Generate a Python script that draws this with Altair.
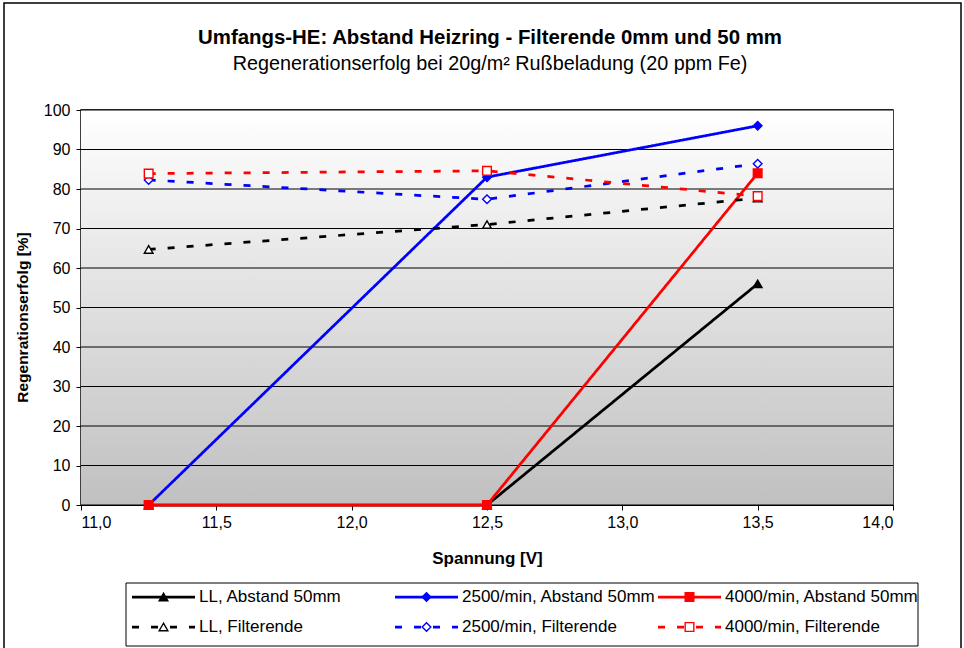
import altair as alt
import pandas as pd

# ---------------- data ----------------
voltage = [11.25, 12.5, 13.5]
series_names = [
    "LL, Abstand 50mm", "2500/min, Abstand 50mm", "4000/min, Abstand 50mm",
    "LL, Filterende", "2500/min, Filterende", "4000/min, Filterende",
]
ll_50 = [0, 0, 56]
rpm2500_50 = [0, 83, 96]
rpm4000_50 = [0, 0, 84]
ll_fe = [64.7, 71, 77.7]
rpm2500_fe = [82.3, 77.4, 86.4]
rpm4000_fe = [83.9, 84.6, 78.2]
x_ticks = [11.0, 11.5, 12.0, 12.5, 13.0, 13.5, 14.0]
y_ticks = [0, 10, 20, 30, 40, 50, 60, 70, 80, 90, 100]

title_text = "Umfangs-HE: Abstand Heizring - Filterende 0mm und 50 mm"
subtitle_text = "Regenerationserfolg bei 20g/m² Rußbeladung (20 ppm Fe)"
x_title = "Spannung [V]"
y_title = "Regenrationserfolg [%]"

all_values = [ll_50, rpm2500_50, rpm4000_50, ll_fe, rpm2500_fe, rpm4000_fe]
rows = []
for name, vals in zip(series_names, all_values):
    for v, val in zip(voltage, vals):
        rows.append({"series": name, "V": v, "value": val})
df = pd.DataFrame(rows)

# ---------------- styles ----------------
FONT = "Liberation Sans"
W, H = 812, 395
colors = ["#000000", "#0000ff", "#ff0000"] * 2
dashes = [[1, 0]] * 3 + [[7, 12]] * 3
shapes = ["triangle-up", "diamond", "square"] * 2
fills = ["#000000", "#0000ff", "#ff0000"] + ["#ffffff"] * 3
sizes = [75, 75, 85, 60, 60, 60]
widths = [2.75, 2.75, 2.75, 3, 3, 3]

color_scale = alt.Scale(domain=series_names, range=colors)
dash_scale = alt.Scale(domain=series_names, range=dashes)
shape_scale = alt.Scale(domain=series_names, range=shapes)
fill_scale = alt.Scale(domain=series_names, range=fills)
size_scale = alt.Scale(domain=series_names, range=sizes)
width_scale = alt.Scale(domain=series_names, range=widths)

x_scale = alt.Scale(domain=[11, 14], nice=False, zero=False)
y_scale = alt.Scale(domain=[0, 100], nice=False)

x_axis = alt.Axis(
    values=x_ticks, grid=False, title=x_title,
    labelExpr="replace(format(datum.value, '.1f'), '.', ',')",
    labelFont=FONT, labelFontSize=16, labelColor="black", labelPadding=4,
    tickColor="black", tickSize=5, domainColor="black",
    titleFont=FONT, titleFontSize=17, titleFontWeight="bold", titleColor="black",
    titleX=406, titleY=53, titleAnchor="middle", titleAlign="center", titleBaseline="middle",
)
y_axis = alt.Axis(
    values=y_ticks, grid=False, title=y_title, format="d",
    labelFont=FONT, labelFontSize=16, labelColor="black", labelPadding=6,
    tickColor="black", tickSize=5, domainColor="black",
    titleFont=FONT, titleFontSize=15.5, titleFontWeight="bold", titleColor="black",
    titleX=-59, titleY=207, titleAngle=270, titleAlign="center", titleBaseline="middle",
)

one = pd.DataFrame({"d": [0]})

background = alt.Chart(one).mark_rect(
    fill=alt.Gradient(
        gradient="linear", x1=0, y1=0, x2=0, y2=1,
        stops=[alt.GradientStop(color="#ffffff", offset=0),
               alt.GradientStop(color="#c0c0c0", offset=1)],
    )
).encode(x=alt.value(0), x2=alt.value(W), y=alt.value(0), y2=alt.value(H))

grid = alt.Chart(pd.DataFrame({"g": y_ticks})).mark_rule(
    color="black", strokeWidth=1
).encode(y=alt.Y("g:Q", scale=y_scale, axis=y_axis))

lines = alt.Chart(df).mark_line().encode(
    x=alt.X("V:Q", scale=x_scale, axis=x_axis),
    y=alt.Y("value:Q", scale=y_scale, axis=y_axis),
    color=alt.Color("series:N", scale=color_scale, legend=None),
    strokeDash=alt.StrokeDash("series:N", scale=dash_scale, legend=None),
    strokeWidth=alt.StrokeWidth("series:N", scale=width_scale, legend=None),
    detail="series:N",
)

points = alt.Chart(df).mark_point(opacity=1, strokeWidth=1.4).encode(
    x=alt.X("V:Q", scale=x_scale, axis=x_axis),
    y=alt.Y("value:Q", scale=y_scale, axis=y_axis),
    shape=alt.Shape("series:N", scale=shape_scale, legend=None),
    stroke=alt.Stroke("series:N", scale=color_scale, legend=None),
    fill=alt.Fill("series:N", scale=fill_scale, legend=None),
    size=alt.Size("series:N", scale=size_scale, legend=None),
)

data_layer = alt.layer(background, grid, lines, points)

# ---------------- legend (manual) ----------------
col_left = [51, 314, 577]
row_y = [487, 517]
seg = 63
leg_rows = []
for i, name in enumerate(series_names):
    c, r = i % 3, i // 3
    leg_rows.append({
        "series": name,
        "x1": col_left[c], "x2": col_left[c] + seg,
        "xm": col_left[c] + seg / 2, "xt": col_left[c] + seg + 4,
        "y": row_y[r],
    })
leg = pd.DataFrame(leg_rows)

lx = lambda f: alt.X(f, scale=None, axis=None)
ly = lambda f: alt.Y(f, scale=None, axis=None)

leg_box = alt.Chart(one).mark_rect(
    fill="white", stroke="black", strokeWidth=1
).encode(x=alt.value(45), x2=alt.value(837), y=alt.value(473), y2=alt.value(536))

leg_lines = alt.Chart(leg).mark_rule().encode(
    x=lx("x1:Q"), x2="x2:Q", y=ly("y:Q"),
    color=alt.Color("series:N", scale=color_scale, legend=None),
    strokeDash=alt.StrokeDash("series:N", scale=dash_scale, legend=None),
    strokeWidth=alt.StrokeWidth("series:N", scale=width_scale, legend=None),
)
leg_points = alt.Chart(leg).mark_point(opacity=1, strokeWidth=1.4).encode(
    x=lx("xm:Q"), y=ly("y:Q"),
    shape=alt.Shape("series:N", scale=shape_scale, legend=None),
    stroke=alt.Stroke("series:N", scale=color_scale, legend=None),
    fill=alt.Fill("series:N", scale=fill_scale, legend=None),
    size=alt.Size("series:N", scale=size_scale, legend=None),
)
leg_text = alt.Chart(leg).mark_text(
    align="left", baseline="middle", font=FONT, fontSize=17, color="black"
).encode(x=lx("xt:Q"), y=ly("y:Q"), text="series:N")

# ---------------- titles and frame ----------------
title_mark = alt.Chart(one).mark_text(
    text=title_text, font=FONT, fontSize=20.4, fontWeight="bold", color="black",
    align="center", baseline="middle",
).encode(x=alt.value(409), y=alt.value(-72))
subtitle_mark = alt.Chart(one).mark_text(
    text=subtitle_text, font=FONT, fontSize=19.8, color="black",
    align="center", baseline="middle",
).encode(x=alt.value(409), y=alt.value(-46))

frame = alt.Chart(one).mark_rect(
    fill="transparent", stroke="black", strokeWidth=1.5
).encode(x=alt.value(-77), x2=alt.value(880), y=alt.value(-107), y2=alt.value(545))

chart = alt.layer(
    frame, data_layer, leg_box, leg_lines, leg_points, leg_text, title_mark, subtitle_mark
).resolve_scale(
    x="independent", y="independent"
).properties(
    width=W, height=H,
    autosize=alt.AutoSizeParams(type="none"),
    padding={"left": 81, "top": 110, "right": 71, "bottom": 143},
    background="white",
).configure_view(
    stroke="black", strokeWidth=1.5
)

chart.save("out.html", embed_options={"renderer": "svg", "actions": False})
